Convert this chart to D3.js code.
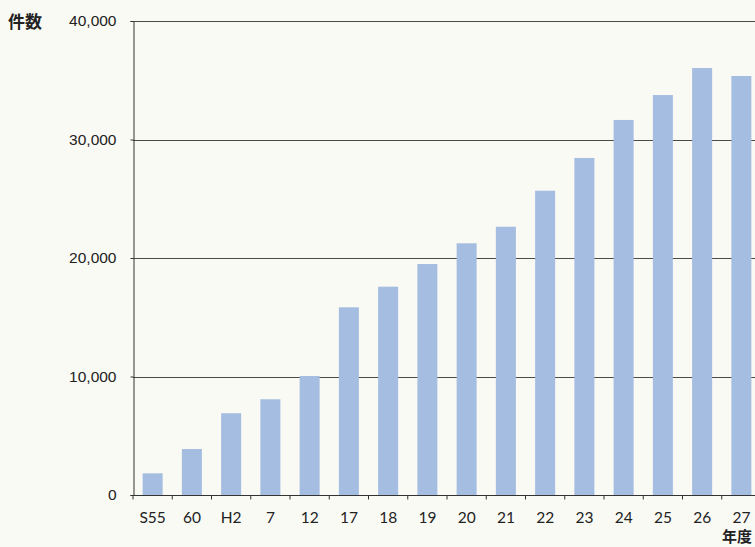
<!DOCTYPE html>
<html>
<head>
<meta charset="utf-8">
<script src="https://cdn.jsdelivr.net/npm/d3@7"></script>
<style>
  body { margin: 0; background: #fafaf5; }
  svg { display: block; }
</style>
</head>
<body>
<div class="chart"></div>
<script>
var years = ["S55", "60", "H2", "7", "12", "17", "18", "19", "20", "21", "22", "23", "24", "25", "26", "27"];
var counts = [1830, 3880, 6900, 8080, 10040, 15840, 17580, 19490, 21240, 22640, 25680, 28440, 31650, 33750, 36030, 35360];
var yTicks = [0, 10000, 20000, 30000, 40000];

var width = 755,
    height = 547;
var margin = {top: 21, left: 133, bottom: 52};

var svg = d3.select(".chart").append("svg")
    .attr("width", width)
    .attr("height", height);

var x = d3.scaleBand()
    .domain(years)
    .range([margin.left, margin.left + 16 * 39.25])
    .paddingInner(0.49)
    .paddingOuter(0.245);

var y = d3.scaleLinear()
    .domain([0, 40000])
    .range([height - margin.bottom, margin.top]);

// gridlines
svg.append("g")
    .selectAll("line")
    .data(yTicks.slice(1))
    .enter().append("line")
    .attr("x1", margin.left)
    .attr("x2", width)
    .attr("y1", function(d) { return Math.round(y(d)) + 0.5; })
    .attr("y2", function(d) { return Math.round(y(d)) + 0.5; })
    .attr("stroke", "#4a4a4a")
    .attr("stroke-width", 1);

// bars
svg.append("g")
    .selectAll("rect")
    .data(counts)
    .enter().append("rect")
    .attr("x", function(d, i) { return x(years[i]); })
    .attr("y", function(d) { return y(d); })
    .attr("width", x.bandwidth())
    .attr("height", function(d) { return y(0) - y(d); })
    .attr("fill", "#a5bde0");

// y axis
var yAxis = svg.append("g")
    .attr("transform", "translate(" + (margin.left + 0.5) + ",0)")
    .call(d3.axisLeft(y).tickValues(yTicks).tickSize(3).tickPadding(14)
      .tickFormat(d3.format(",")));
yAxis.select(".domain").attr("stroke", "#333");
yAxis.selectAll(".tick line").attr("stroke", "#333");
yAxis.selectAll("text")
    .attr("font-family", "Liberation Sans, Arial, sans-serif")
    .attr("font-size", 15.5)
    .attr("fill", "#222");

// x axis
var xAxis = svg.append("g")
    .attr("transform", "translate(0," + (Math.round(y(0)) + 0.5) + ")")
    .call(d3.axisBottom(x).tickSize(0).tickPadding(16));
xAxis.select(".domain").remove();
xAxis.append("line")
    .attr("x1", margin.left)
    .attr("x2", width)
    .attr("stroke", "#333");
xAxis.selectAll(".tick text")
    .attr("font-family", "Lato, Open Sans, sans-serif")
    .attr("font-size", 15.5)
    .attr("fill", "#222");
xAxis.selectAll(".bound")
    .data(years)
    .enter().append("line")
    .attr("class", "bound")
    .attr("x1", function(d) { return x(d) - x.step() * x.paddingInner() / 2; })
    .attr("x2", function(d) { return x(d) - x.step() * x.paddingInner() / 2; })
    .attr("y1", 0)
    .attr("y2", 4)
    .attr("stroke", "#333");

// axis titles
svg.append("text")
    .attr("x", 8)
    .attr("y", 28)
    .attr("font-family", "Noto Sans CJK JP")
    .attr("font-weight", "bold")
    .attr("font-size", 17)
    .attr("fill", "#222")
    .text("件数");

svg.append("text")
    .attr("x", 752)
    .attr("y", 542)
    .attr("text-anchor", "end")
    .attr("font-family", "Noto Sans CJK JP")
    .attr("font-weight", "bold")
    .attr("font-size", 15)
    .attr("fill", "#222")
    .text("年度");
</script>
</body>
</html>
